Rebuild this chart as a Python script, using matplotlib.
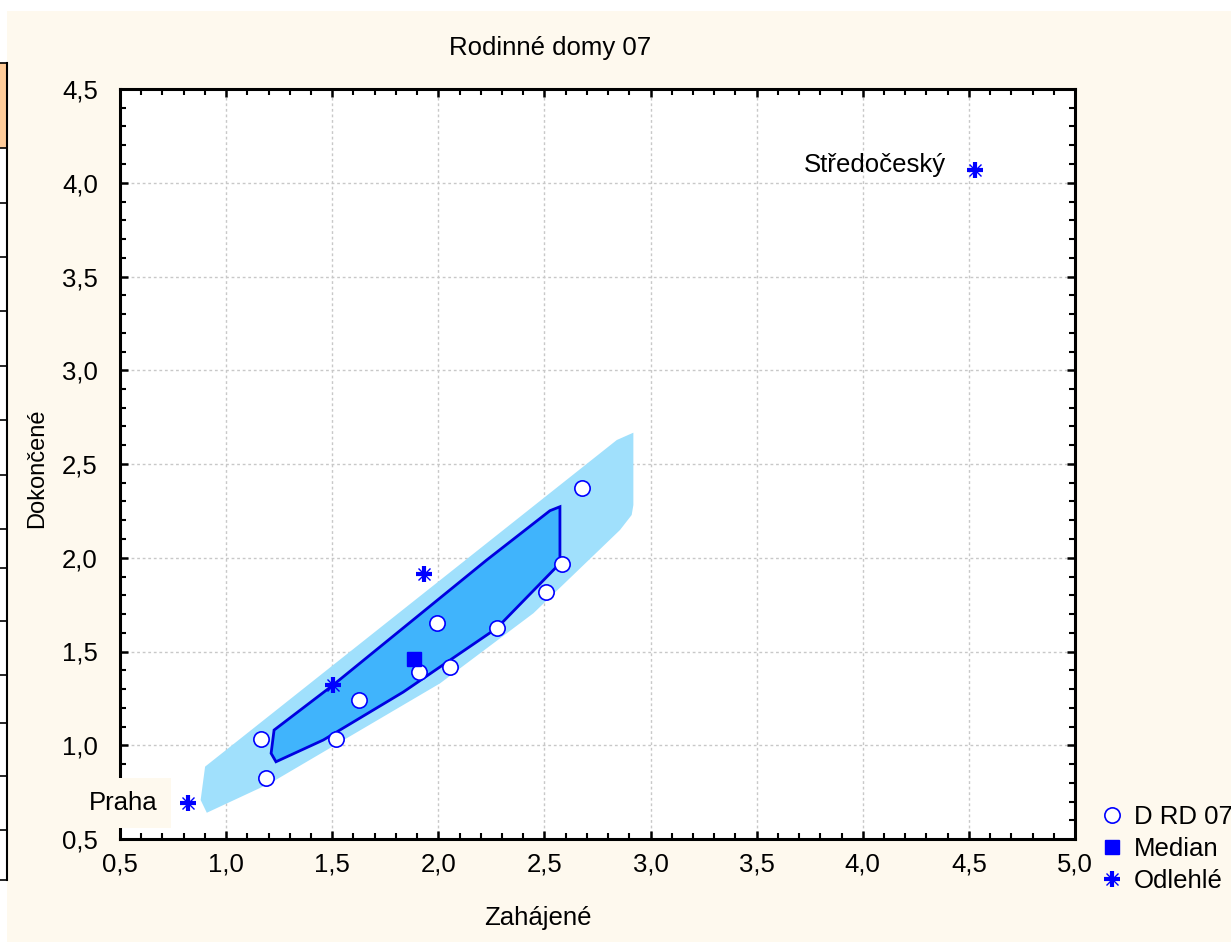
import matplotlib
matplotlib.use("Agg")
import matplotlib.pyplot as plt
from matplotlib.patches import Rectangle, Polygon
from matplotlib.lines import Line2D
from matplotlib.legend_handler import HandlerTuple
from matplotlib.ticker import MultipleLocator, FuncFormatter

plt.rcParams['font.family'] = ['Liberation Sans', 'DejaVu Sans']

# data
pts_x = [1.164, 1.188, 1.518, 1.626, 1.909, 2.055, 1.994, 2.277, 2.508, 2.583, 2.677]
pts_y = [1.033, 0.825, 1.033, 1.241, 1.391, 1.417, 1.652, 1.625, 1.817, 1.967, 2.372]

median_x = [1.885]
median_y = [1.461]

out_x = [1.933, 1.504, 0.820, 4.529]
out_y = [1.915, 1.320, 0.692, 4.068]

# hull outlines (bagplot style)
outer_x = [0.901, 0.880, 0.909, 1.207, 2.008, 2.448, 2.856, 2.911, 2.919, 2.919, 2.841]
outer_y = [0.886, 0.708, 0.640, 0.797, 1.330, 1.704, 2.148, 2.228, 2.281, 2.667, 2.628]
inner_x = [1.226, 1.212, 1.235, 1.458, 1.835, 2.275, 2.573, 2.573, 2.526, 2.228, 1.504]
inner_y = [1.081, 0.957, 0.912, 1.028, 1.284, 1.624, 1.970, 2.272, 2.251, 1.988, 1.321]

label_names = ['Praha', 'Středočeský']
label_idx = [2, 3]

CREAM = '#FEF9EE'
BLUE = '#0000FF'
FS = 18.5

fig = plt.figure(figsize=(12.31, 9.42), dpi=100)
fig.patch.set_facecolor('white')

W, H = 1231, 942
def fx(px):
    return px / W
def fy(py):
    return 1 - py / H

# cream panel
fig.patches.append(Rectangle((fx(7), 0), 1 - fx(7), fy(11), transform=fig.transFigure,
                             facecolor=CREAM, edgecolor='none', zorder=-5))
# left-edge remnant of a neighbouring table
fig.patches.append(Rectangle((0, fy(148)), fx(7), fy(63) - fy(148), transform=fig.transFigure,
                             facecolor='#FFCC99', edgecolor='none', zorder=-4))
fig.add_artist(Line2D([fx(7), fx(7)], [fy(63), fy(880)], transform=fig.transFigure,
                      color='black', lw=1.5, zorder=-3))
for yy in [63, 148, 203, 257, 311, 366, 420, 475, 529, 568, 621, 675, 723, 776, 830, 880]:
    fig.add_artist(Line2D([0, fx(7)], [fy(yy), fy(yy)], transform=fig.transFigure,
                          color='black', lw=1.2, zorder=-3))

ax = fig.add_axes([fx(120), fy(839), fx(1075) - fx(120), fy(89) - fy(839)])
ax.set_facecolor('white')
ax.set_xlim(0.5, 5.0)
ax.set_ylim(0.5, 4.5)

ax.add_patch(Polygon(list(zip(outer_x, outer_y)), closed=True, facecolor='#A0E0FC',
                     edgecolor='none', zorder=1))
ax.add_patch(Polygon(list(zip(inner_x, inner_y)), closed=True, facecolor='#40B4FC',
                     edgecolor='#0000E0', lw=2, zorder=2))

h_pts, = ax.plot(pts_x, pts_y, 'o', ls='none', ms=11, mfc='white', mec=BLUE, mew=1.2,
                 zorder=4)
h_med, = ax.plot(median_x, median_y, 's', ls='none', ms=10, mfc=BLUE, mec=BLUE, zorder=4)
h_plus, = ax.plot(out_x, out_y, '+', ls='none', ms=11, mec=BLUE, mew=3, zorder=4)
h_x, = ax.plot(out_x, out_y, 'x', ls='none', ms=9, mec=BLUE, mew=1, zorder=4)

ax.text(out_x[label_idx[0]] - 0.141, out_y[label_idx[0]], label_names[0], fontsize=FS,
        ha='right', va='center', zorder=5,
        bbox=dict(boxstyle='square,pad=0.5', facecolor=CREAM, edgecolor='none'))
ax.text(out_x[label_idx[1]] - 0.137, out_y[label_idx[1]] + 0.027, label_names[1], fontsize=FS,
        ha='right', va='center', zorder=5)

ax.xaxis.set_major_locator(MultipleLocator(0.5))
ax.yaxis.set_major_locator(MultipleLocator(0.5))
ax.xaxis.set_minor_locator(MultipleLocator(0.1))
ax.yaxis.set_minor_locator(MultipleLocator(0.1))
comma = FuncFormatter(lambda v, p: f'{v:.1f}'.replace('.', ','))
ax.xaxis.set_major_formatter(comma)
ax.yaxis.set_major_formatter(comma)
ax.tick_params(which='both', direction='in', top=True, right=True, labelsize=FS, color='black')
ax.tick_params(which='major', length=6, width=1.8, pad=10)
ax.tick_params(which='minor', length=4, width=1.5)
ax.tick_params(axis='y', which='major', pad=16)
for s in ax.spines.values():
    s.set_linewidth(2.2)
ax.grid(True, which='major', color='#C8C8C8', ls=(0, (2, 2)), lw=1)
ax.set_axisbelow(True)

fig.text(fx(550), fy(48), 'Rodinné domy 07', fontsize=FS, ha='center', va='center')
fig.text(fx(538), fy(918), 'Zahájené', fontsize=FS, ha='center', va='center')
fig.text(fx(37), fy(468), 'Dokončené', fontsize=17, ha='center', va='center', rotation=90)

leg = ax.legend([h_pts, h_med, (h_plus, h_x)], ['D RD 07', 'Median', 'Odlehlé'],
                handler_map={tuple: HandlerTuple(ndivide=1, pad=0)},
                loc='center left', bbox_to_anchor=(fx(1102), fy(849)),
                bbox_transform=fig.transFigure, frameon=False, fontsize=FS,
                handlelength=0.8, handletextpad=0.45, labelspacing=0.32,
                borderaxespad=0, borderpad=0)

fig.savefig('out.png', dpi=100, facecolor=fig.get_facecolor())
